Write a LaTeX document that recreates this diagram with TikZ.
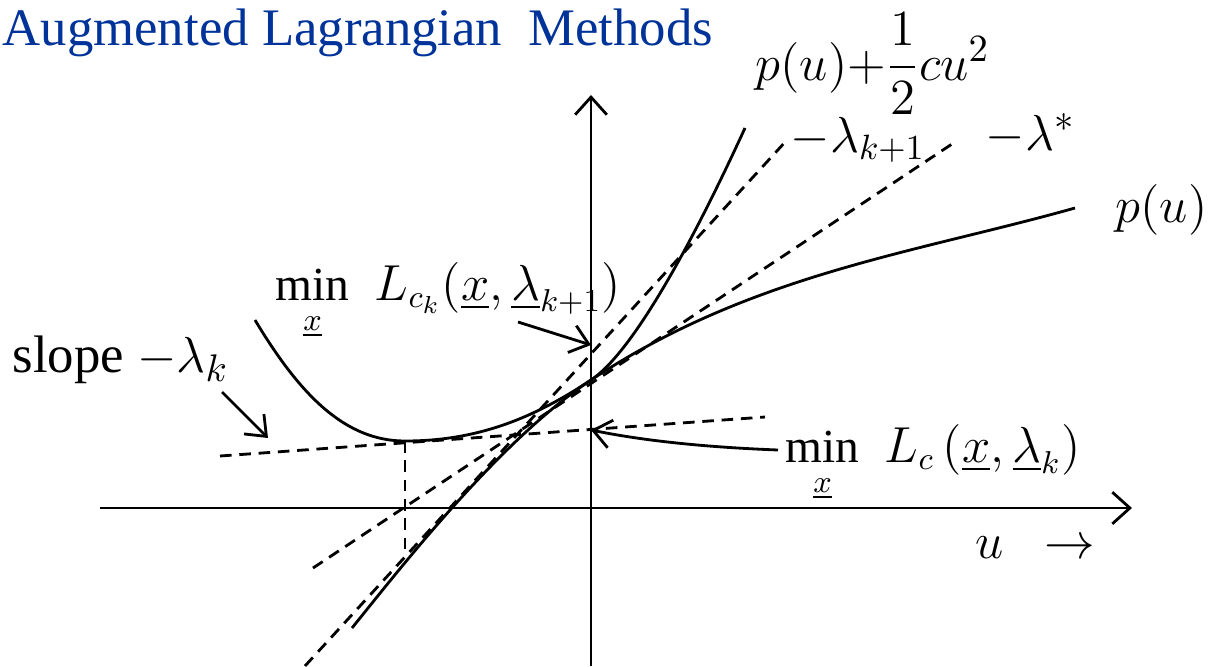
\documentclass[tikz,border=0pt]{standalone}
\usepackage{amsmath}
\usepackage{fontspec}
\setmainfont{Liberation Serif}
\usetikzlibrary{arrows.meta, calc}
\definecolor{titleblue}{RGB}{0,51,153}

\begin{document}
\begin{tikzpicture}[
        x=0.01cm, y=-0.01cm,
        curve/.style={line width=0.8pt},
        guide/.style={line width=0.8pt, dash pattern=on 3.3pt off 2.2pt},
        axis/.style={line width=0.8pt, -{Straight Barb[length=5pt,width=9pt]}},
        pointer/.style={line width=0.8pt, -{Straight Barb[length=5pt,width=8pt]}},
        lbl/.style={inner sep=0pt, anchor=base west, font=\fontsize{15}{18}\selectfont},
        small lbl/.style={lbl, font=\fontsize{14}{17}\selectfont},
        min lbl/.style={lbl, font=\fontsize{13.5}{16}\selectfont}
    ]
    \useasboundingbox (0,0) rectangle (1214,666);

    % axes
    \coordinate (ul) at (100,508);
    \coordinate (ur) at (1132,508);
    \coordinate (vb) at (591,666);
    \coordinate (vt) at (591,95);
    \draw[axis] (ul) -- (ur);
    \draw[axis] (vb) -- (vt);

    % points on the curves
    \coordinate (P0) at (591,380);
    \coordinate (Pl) at (352,628);
    \coordinate (Pr) at (1075,208);
    \coordinate (Al) at (255,320);
    \coordinate (Amin) at (405,441);
    \coordinate (Ar) at (745,128);

    % p(u)
    \draw[curve] (Pl) .. controls (402,566) and (501,439) .. (P0)
                      .. controls (751,274) and (915,253) .. (Pr);
    % p(u) + c u^2 / 2
    \draw[curve] (Al) .. controls (300,395) and (345,441) .. (Amin)
                      .. controls (475,441) and (531,420) .. (P0)
                      .. controls (641,347) and (712,200) .. (Ar);

    % dashed lines
    \coordinate (Ik) at (591,430);
    \coordinate (Ik1) at (591,345);
    \draw[guide] (220,456) -- (765,417);
    \draw[guide] (Amin) -- (405,553);
    \draw[guide] (313,568) -- (955,142);
    \draw[guide] (305,666) -- (787,140);

    % labels
    \node[inner sep=0pt, anchor=base west, text=titleblue, font=\fontsize{15}{18}\selectfont]
        (title) at (2,45) {Augmented Lagrangian\ \ Methods};
    \node[lbl] (lblpc) at (755,80) {$p(u){+}\dfrac{1}{2}cu^2$};
    \node[small lbl] (lblk1) at (790,152) {$-\lambda_{k+1}$};
    \node[lbl] (lblstar) at (985,150) {$-\lambda^{*}$};
    \node[lbl] (lblp) at (1115,222) {$p(u)$};
    \node[min lbl] (lblmink1) at (275,300)
        {$\min\limits_{\underline{x}}\,\,L_{c_k}(\underline{x},\underline{\lambda}_{k+1})$};
    \node[lbl] (lblslope) at (12,372) {slope $-\lambda_k$};
    \node[min lbl] (lblmin) at (785,462)
        {$\min\limits_{\underline{x}}\,\,L_{c}\,(\underline{x},\underline{\lambda}_{k})$};
    \node[lbl] (lblu) at (975,558) {$u\ \ \rightarrow$};

    % pointers
    \coordinate (slopetail) at (222,392);
    \coordinate (slopetip) at (268,438);
    \coordinate (k1tail) at (518,322);
    \coordinate (mintail) at (778,450);
    \draw[pointer] (slopetail) -- (slopetip);
    \draw[pointer] (k1tail) -- (Ik1);
    \draw[pointer] (mintail) .. controls (700,447) and (640,440) .. (Ik);
\end{tikzpicture}
\end{document}
